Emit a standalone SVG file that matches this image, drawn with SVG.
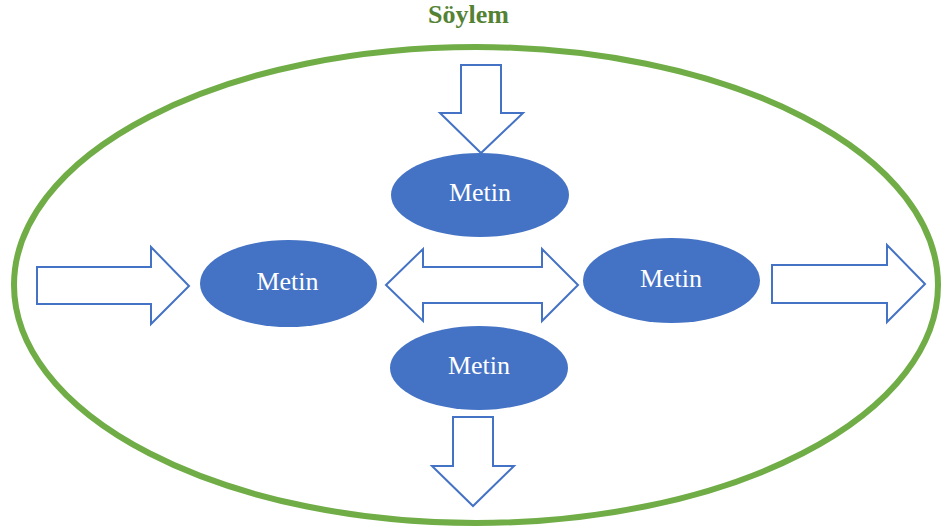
<svg xmlns="http://www.w3.org/2000/svg" width="942" height="531" viewBox="0 0 942 531">
  <style>
    .frame { fill: none; stroke: #70AD47; stroke-width: 6; }
    .title { font-family: "Liberation Serif", "Times New Roman", serif; font-size: 26px; font-weight: bold; fill: #548235; text-anchor: middle; }
    .node ellipse { fill: #4472C4; }
    .node text { font-family: "Liberation Serif", "Times New Roman", serif; font-size: 26px; fill: #FFFFFF; text-anchor: middle; }
    .arrow { fill: #FFFFFF; stroke: #4472C4; stroke-width: 2; stroke-linejoin: miter; }
  </style>

  <rect width="942" height="531" fill="#FFFFFF"/>

  <!-- outer boundary -->
  <ellipse class="frame" cx="476" cy="285" rx="462" ry="238"/>
  <text class="title" x="468.5" y="23">Söylem</text>

  <!-- block arrows -->
  <g id="connectors">
    <!-- downward into the top node -->
    <polygon class="arrow" points="461,65 501,65 501,113 523,113 481,153 440,113 461,113"/>
    <!-- rightward into the left node -->
    <polygon class="arrow" points="37,267 151,267 151,247 189,286 151,324 151,304 37,304"/>
    <!-- two-way between left and right nodes -->
    <polygon class="arrow" points="386,285 423,249 423,267 542,267 542,249 578,285 542,321 542,303 423,303 423,321"/>
    <!-- rightward out of the right node -->
    <polygon class="arrow" points="772,265 887,265 887,245 925,284 887,322 887,303 772,303"/>
    <!-- downward out of the bottom node -->
    <polygon class="arrow" points="453,417 493,417 493,466 514,466 473,506 432,466 453,466"/>
  </g>

  <g id="node-top" class="node">
    <ellipse cx="480" cy="195" rx="89" ry="42"/>
    <text x="480" y="200.5">Metin</text>
  </g>
  <g id="node-left" class="node">
    <ellipse cx="288.5" cy="283.5" rx="88.5" ry="43.5"/>
    <text x="287.5" y="290">Metin</text>
  </g>
  <g id="node-right" class="node">
    <ellipse cx="671.5" cy="280.5" rx="88.5" ry="42.5"/>
    <text x="671" y="287">Metin</text>
  </g>
  <g id="node-bottom" class="node">
    <ellipse cx="479" cy="368" rx="89" ry="42"/>
    <text x="479" y="374">Metin</text>
  </g>
</svg>
